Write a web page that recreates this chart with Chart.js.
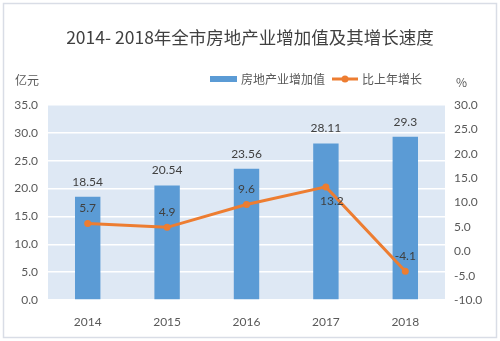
<!DOCTYPE html>
<html><head><meta charset="utf-8">
<script src="https://cdn.jsdelivr.net/npm/chart.js@4/dist/chart.umd.min.js"></script>
<style>html,body{margin:0;padding:0;background:#fff;}#c{display:block;}</style>
</head><body>
<canvas id="c" width="500" height="341"></canvas>
<script>
const categories = ['2014','2015','2016','2017','2018'];
const valueAdded = [18.54, 20.54, 23.56, 28.11, 29.3];
const growthRate = [5.7, 4.9, 9.6, 13.2, -4.1];
const seriesNames = ['房地产业增加值', '比上年增长'];
const titleText = '2014- 2018年全市房地产业增加值及其增长速度';
const leftUnit = '亿元';
const rightUnit = '%';

const FONT = "Lato, 'Noto Sans CJK SC', sans-serif";
const BLUE = '#5b9bd5';
const ORANGE = '#ed7d31';
const TXT = '#595959';

const deco = {
  id: 'deco',
  beforeDraw(chart) {
    const {ctx, chartArea: a} = chart;
    ctx.save();
    ctx.fillStyle = '#fff';
    ctx.fillRect(0, 0, chart.width, chart.height);
    ctx.strokeStyle = '#d9dde6';
    ctx.lineWidth = 1.5;
    ctx.strokeRect(3.5, 3.5, chart.width - 7, chart.height - 7);
    ctx.fillStyle = '#dee8f4';
    ctx.fillRect(a.left, a.top, a.right - a.left, a.bottom - a.top);
    ctx.restore();
  },
  afterDraw(chart) {
    const {ctx} = chart;
    ctx.save();
    ctx.fillStyle = '#404040';
    ctx.font = "17.5px 'Noto Sans CJK SC', Lato, sans-serif";
    ctx.textAlign = 'center';
    ctx.textBaseline = 'middle';
    ctx.fillText(titleText, 250, 37);
    ctx.fillStyle = TXT;
    ctx.font = "12px 'Noto Sans CJK SC', sans-serif";
    ctx.textAlign = 'left';
    ctx.fillText(leftUnit, 15, 80);
    ctx.fillText(rightUnit, 456, 82);
    ctx.fillStyle = BLUE;
    ctx.fillRect(210, 76, 27, 6);
    ctx.fillStyle = TXT;
    ctx.fillText(seriesNames[0], 241, 79);
    ctx.strokeStyle = ORANGE;
    ctx.lineWidth = 3;
    ctx.beginPath(); ctx.moveTo(332, 79); ctx.lineTo(358, 79); ctx.stroke();
    ctx.fillStyle = ORANGE;
    ctx.beginPath(); ctx.arc(345, 79, 3.5, 0, Math.PI * 2); ctx.fill();
    ctx.fillStyle = TXT;
    ctx.fillText(seriesNames[1], 362, 79);
    ctx.fillStyle = '#404040';
    ctx.font = '12px ' + FONT;
    ctx.textAlign = 'center';
    const barMeta = chart.getDatasetMeta(1);
    barMeta.data.forEach((el, i) => {
      ctx.fillText(String(valueAdded[i]), el.x, el.y - 15);
    });
    const lineMeta = chart.getDatasetMeta(0);
    lineMeta.data.forEach((el, i) => {
      const below = i === 3;
      ctx.fillText(growthRate[i].toFixed(1), el.x + (below ? 6 : 0), below ? el.y + 14 : el.y - 15);
    });
    ctx.restore();
  }
};

new Chart(document.getElementById('c'), {
  data: {
    labels: categories,
    datasets: [
      {type: 'line', label: seriesNames[1], data: growthRate, yAxisID: 'y1',
       borderColor: ORANGE, backgroundColor: ORANGE, borderWidth: 3,
       pointRadius: 3.5, pointBackgroundColor: ORANGE, pointBorderWidth: 0, tension: 0, order: 0},
      {type: 'bar', label: seriesNames[0], data: valueAdded, yAxisID: 'y',
       backgroundColor: BLUE, categoryPercentage: 1, barPercentage: 0.32, order: 1}
    ]
  },
  options: {
    responsive: false,
    animation: false,
    layout: {padding: {top: 105, left: 0, right: 0, bottom: 0}},
    plugins: {legend: {display: false}, title: {display: false}, tooltip: {enabled: false}},
    scales: {
      x: {
        grid: {display: false}, border: {display: false},
        ticks: {color: TXT, font: {family: FONT, size: 12}, padding: 7},
        afterFit(s) { s.height = 41; }
      },
      y: {
        position: 'left', min: 0, max: 35,
        grid: {color: '#ffffff', lineWidth: 1.5, drawTicks: false},
        border: {display: false},
        ticks: {stepSize: 5, color: TXT, font: {family: FONT, size: 12}, padding: 10,
                callback: v => v.toFixed(1)},
        afterFit(s) { s.width = 48; }
      },
      y1: {
        position: 'right', min: -10, max: 30,
        grid: {display: false, drawTicks: false}, border: {display: false},
        ticks: {stepSize: 5, color: TXT, font: {family: FONT, size: 12}, padding: 9,
                callback: v => v.toFixed(1)},
        afterFit(s) { s.width = 55; }
      }
    }
  },
  plugins: [deco]
});
</script>
</body></html>
